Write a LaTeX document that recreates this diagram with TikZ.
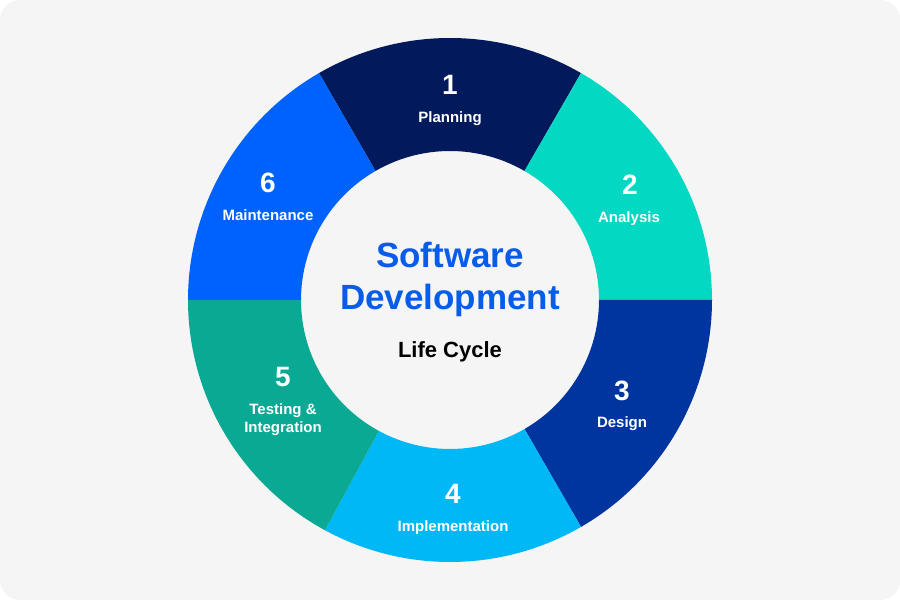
\documentclass[tikz,border=0pt]{standalone}
\usepackage{fontspec}
\setmainfont{Liberation Sans}
\definecolor{bggray}{HTML}{F5F5F6}
\definecolor{seg1}{HTML}{021A5C}
\definecolor{seg2}{HTML}{03D8C2}
\definecolor{seg3}{HTML}{0035A0}
\definecolor{seg4}{HTML}{00B8F6}
\definecolor{seg5}{HTML}{0AA993}
\definecolor{seg6}{HTML}{0062FC}
\definecolor{titleblue}{HTML}{075DE8}
\begin{document}
\begin{tikzpicture}[x=1pt,y=1pt,
  num/.style={anchor=base,inner sep=0pt,text=white,font=\fontsize{28}{30}\selectfont\bfseries},
  lab/.style={anchor=base,inner sep=0pt,text=white,font=\fontsize{15}{18}\selectfont\bfseries},
  titletext/.style={anchor=base,inner sep=0pt,text=titleblue,font=\fontsize{35}{40}\selectfont\bfseries},
  subtext/.style={anchor=base,inner sep=0pt,text=black,font=\fontsize{22}{26}\selectfont\bfseries}]
\useasboundingbox (0,0) rectangle (900,600);
\fill[white] (0,0) rectangle (900,600);
\fill[bggray,rounded corners=20pt] (0,0) rectangle (900,600);
\coordinate (c) at (450,300);
\foreach \a/\b/\col in {60/120/seg1, 0/60/seg2, -60/0/seg3, -118.5/-60/seg4, 180/241.5/seg5, 120/180/seg6}{
  \fill[\col,shift={(c)}] (\a:262) arc[start angle=\a, end angle=\b, radius=262]
     -- (\b:149) arc[start angle=\b, end angle=\a, radius=149] -- cycle;
}
% segment labels
\node[num] (n1) at (450,505) {1};
\node[lab] (l1) at (450,477) {Planning};
\node[num] (n2) at (630,405) {2};
\node[lab] (l2) at (629,377) {Analysis};
\node[num] (n3) at (622,199) {3};
\node[lab] (l3) at (622,172) {Design};
\node[num] (n4) at (453,96) {4};
\node[lab] (l4) at (453,68) {Implementation};
\node[num] (n5) at (283,213) {5};
\node[lab] (l5a) at (283,185) {Testing \&};
\node[lab] (l5b) at (283,167) {Integration};
\node[num] (n6) at (268,407) {6};
\node[lab] (l6) at (268,379) {Maintenance};
% centre
\node[titletext] (t1) at (450,332) {Software};
\node[titletext] (t2) at (450,290) {Development};
\node[subtext] (t3) at (450,242) {Life Cycle};
\end{tikzpicture}
\end{document}
